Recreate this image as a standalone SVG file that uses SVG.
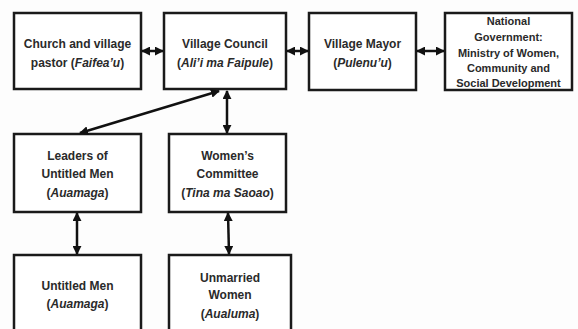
<svg xmlns="http://www.w3.org/2000/svg" width="578" height="329" viewBox="0 0 578 329">
<style>
.box{fill:#fff;stroke:#1a1a1a;stroke-width:2.5}
.t{font-family:"Liberation Sans",Arial,sans-serif;font-weight:bold;font-size:12px;fill:#2a2a2a;text-anchor:middle}
.s{font-size:11px}
.i{font-style:italic}
.c{stroke:#111;stroke-width:2.5;fill:none;marker-start:url(#ah);marker-end:url(#ah)}
</style>
<defs>
<marker id="ah" viewBox="0 0 10 10" refX="9" refY="5" markerWidth="3.6" markerHeight="3.6" orient="auto-start-reverse">
<path d="M0,0 L10,5 L0,10 z" fill="#111"/>
</marker>
</defs>
<rect width="578" height="329" fill="#fdfdfd"/>
<g id="church"><rect class="box" x="14" y="13" width="127" height="76"/>
<text class="t" x="77.5" y="48">Church and village</text>
<text class="t" x="77.5" y="67">pastor (<tspan class="i">Faifea’u</tspan>)</text></g>
<g id="council"><rect class="box" x="164" y="13" width="122" height="76"/>
<text class="t" x="225" y="48">Village Council</text>
<text class="t" x="225" y="67">(<tspan class="i">Ali’i ma Faipule</tspan>)</text></g>
<g id="mayor"><rect class="box" x="309" y="13" width="107" height="77"/>
<text class="t" x="362.5" y="48">Village Mayor</text>
<text class="t" x="362.5" y="67">(<tspan class="i">Pulenu’u</tspan>)</text></g>
<g id="national"><rect class="box" x="445" y="13" width="127" height="77"/>
<text class="t s" x="508.5" y="25">National</text>
<text class="t s" x="508.5" y="41">Government:</text>
<text class="t s" x="508.5" y="57">Ministry of Women,</text>
<text class="t s" x="508.5" y="72">Community and</text>
<text class="t s" x="508.5" y="87">Social Development</text></g>
<g id="leaders"><rect class="box" x="14" y="134" width="127" height="78"/>
<text class="t" x="77.5" y="160">Leaders of</text>
<text class="t" x="77.5" y="178">Untitled Men</text>
<text class="t" x="77.5" y="197">(<tspan class="i">Auamaga</tspan>)</text></g>
<g id="womens"><rect class="box" x="169" y="134" width="117" height="78"/>
<text class="t" x="227.5" y="160">Women’s</text>
<text class="t" x="227.5" y="178">Committee</text>
<text class="t" x="227.5" y="197">(<tspan class="i">Tina ma Saoao</tspan>)</text></g>
<g id="untitled"><rect class="box" x="14" y="255" width="127" height="90"/>
<text class="t" x="77.5" y="290">Untitled Men</text>
<text class="t" x="77.5" y="308">(<tspan class="i">Auamaga</tspan>)</text></g>
<g id="unmarried"><rect class="box" x="169" y="255" width="122" height="90"/>
<text class="t" x="230" y="282">Unmarried</text>
<text class="t" x="230" y="299">Women</text>
<text class="t" x="230" y="318">(<tspan class="i">Aualuma</tspan>)</text></g>
<g id="connectors">
<line class="c" x1="142" y1="51" x2="163" y2="51"/>
<line class="c" x1="287" y1="51" x2="308" y2="51"/>
<line class="c" x1="417" y1="51" x2="444" y2="51"/>
<line class="c" x1="219" y1="91" x2="80" y2="133"/>
<line class="c" x1="227" y1="91" x2="227" y2="133"/>
<line class="c" x1="77" y1="213" x2="77" y2="254"/>
<line class="c" x1="228" y1="213" x2="229" y2="254"/>
</g>
</svg>
